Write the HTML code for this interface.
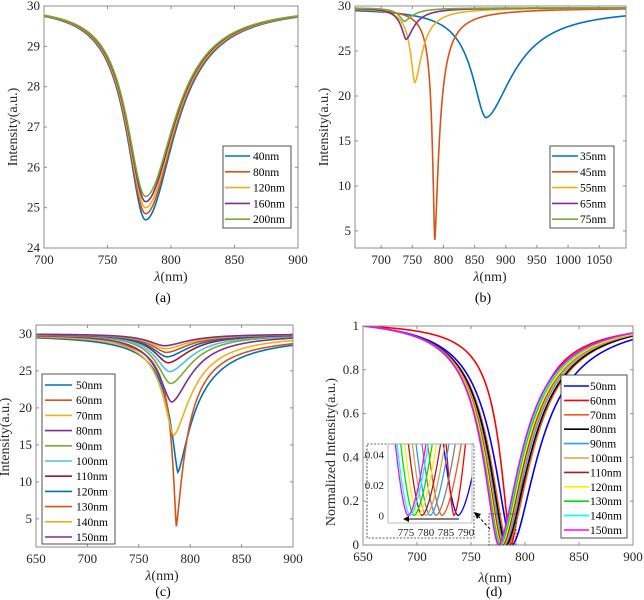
<!DOCTYPE html>
<html><head><meta charset="utf-8">
<style>
html,body{margin:0;padding:0;background:#fff;}
svg{display:block;font-family:"Liberation Serif",serif;}
</style></head>
<body>
<svg id="fig" width="644" height="600" viewBox="0 0 644 600" xmlns="http://www.w3.org/2000/svg"></svg>
<script>
// ---- Panel (a) data ----
const aLabels = ["40nm","80nm","120nm","160nm","200nm"];
const aCenters = [780,780,780,780,780];
const aMins = [24.7,24.85,25.0,25.15,25.28];
const aGL = [18,18,18,18,18];
const aGR = [28,28,28,28,28];
const aP = [2,2,2,2,2];
const aBase = 30;
const aXTicks = [700,750,800,850,900];
const aYTicks = [24,25,26,27,28,29,30];
// ---- Panel (b) data ----
const bLabels = ["35nm","45nm","55nm","65nm","75nm"];
const bCenters = [868,786,754,740,737];
const bMins = [17.6,4.0,21.5,26.3,28.3];
const bGL = [28,5,9,10,10];
const bGR = [55,9,15,16,16];
const bP = [1.8,1.5,1.7,1.7,1.7];
const bBase = 29.8;
const bXTicks = [700,750,800,850,900,950,1000,1050];
const bYTicks = [5,10,15,20,25,30];
// ---- Panel (c) data ----
const cLabels = ["50nm","60nm","70nm","80nm","90nm","100nm","110nm","120nm","130nm","140nm","150nm"];
const cCenters = [788,786.5,784,782,781,780,778.5,777.5,777,776,775];
const cMins = [11.3,4.0,16.3,20.8,23.3,24.9,26.1,26.9,27.5,28.0,28.4];
const cGL = [11,6,14,16,17,18,18,19,19,20,20];
const cGR = [20,12,22,24,25,26,26,27,27,28,28];
const cP = [1.4,1.3,1.6,1.7,1.8,1.8,1.8,1.8,1.8,1.8,1.8];
const cBase = 30;
const cXTicks = [650,700,750,800,850,900];
const cYTicks = [5,10,15,20,25,30];
// ---- Panel (d) data ----
const dLabels = ["50nm","60nm","70nm","80nm","90nm","100nm","110nm","120nm","130nm","140nm","150nm"];
const dCenters = [788,787,784,782.5,781,780,779,778,777,776,775.5];
const dGL = [22,13,21.5,21,21,20.5,20.5,20,20,19.5,19];
const dGR = [31,19,29,29,28.5,28.5,28,28,27.5,27.5,27];
const dP = [1.7,1.6,1.7,1.7,1.7,1.7,1.7,1.7,1.7,1.7,1.7];
const dXTicks = [650,700,750,800,850,900];
const dYTicks = [0,0.2,0.4,0.6,0.8,1];
const dYTickLabels = ["0","0.2","0.4","0.6","0.8","1"];
const insetXTicks = [775,780,785,790];
const insetYTicks = [0,0.02,0.04];
const insetYTickLabels = ["0","0.02","0.04"];

const matlab = ["#0072BD","#D95319","#EDB120","#7E2F8E","#77AC30","#4DBEEE","#A2142F"];
const dColors = ["#0000ff","#ff0000","#f05a1a","#000000","#2a9cff","#e0a040","#a0202a","#ffee00","#00e000","#00ffff","#ff00ff"];

const NS = "http://www.w3.org/2000/svg";
const svg = document.getElementById("fig");
function el(tag, attrs, parent){
  const e = document.createElementNS(NS, tag);
  for (const k in attrs) e.setAttribute(k, attrs[k]);
  (parent||svg).appendChild(e);
  return e;
}
function lor(x,c,gl,gr,p){
  const d = x - c; const g = d<0?gl:gr;
  return 1/(1+Math.pow(Math.abs(d)/g,p));
}
function scale(d0,d1,r0,r1){ return v => r0 + (v-d0)/(d1-d0)*(r1-r0); }

function axes(g, name, X, Y, px, xt, yt, ytl, fs){
  const [x0,x1,y0,y1] = px;
  const frame = el("rect",{x:x0,y:y0,width:x1-x0,height:y1-y0,fill:"none",stroke:"#8c8c8c","stroke-width":1},g);
  
  
  xt.forEach(v=>{
    const x = X(v);
    el("line",{x1:x,y1:y1,x2:x,y2:y1-3,stroke:"#8c8c8c"},g);
    el("line",{x1:x,y1:y0,x2:x,y2:y0+3,stroke:"#8c8c8c"},g);
    const t = el("text",{x:x,y:y1+16,"font-size":fs,"text-anchor":"middle",fill:"#262626"},g);
    t.textContent = v;
    
    
  });
  yt.forEach((v,i)=>{
    const y = Y(v);
    el("line",{x1:x0,y1:y,x2:x0+3,y2:y,stroke:"#8c8c8c"},g);
    el("line",{x1:x1,y1:y,x2:x1-3,y2:y,stroke:"#8c8c8c"},g);
    const t = el("text",{x:x0-4,y:y+4,"font-size":fs,"text-anchor":"end",fill:"#262626"},g);
    t.textContent = ytl ? ytl[i] : v;
    
    
  });
}
function clip(id, px){
  const cp = el("clipPath",{id:id});
  el("rect",{x:px[0],y:px[2],width:px[1]-px[0],height:px[3]-px[2]},cp);
}
function legend(g, name, box, labels, colors, y0, step, lx0, lx1, tx){
  const r = el("rect",{x:box[0],y:box[1],width:box[2],height:box[3],fill:"#fff",stroke:"#262626","stroke-width":0.8},g);
  
  
  labels.forEach((l,i)=>{
    const y = y0 + i*step;
    const ln = el("line",{x1:lx0,y1:y,x2:lx1,y2:y,stroke:colors[i % colors.length],"stroke-width":1.6},g);
    
    
    const t = el("text",{x:tx,y:y+4,"font-size":11.5,fill:"#000"},g);
    t.textContent = l;
    
    
  });
}
function labels(g,name,xl,yl,cap){
  let t = el("text",{x:xl[0],y:xl[1],"font-size":14,"text-anchor":"middle",fill:"#262626"},g);
  t.innerHTML = '<tspan font-style="italic">λ</tspan>(nm)';
  
  
  t = el("text",{x:0,y:0,"font-size":14,"text-anchor":"middle",fill:"#262626",transform:`translate(${yl[0]},${yl[1]}) rotate(-90)`},g);
  t.textContent = yl[2];
  
  
  t = el("text",{x:cap[0],y:cap[1],"font-size":14,"text-anchor":"middle",fill:"#000"},g);
  t.textContent = cap[2];
  
  
}
function intensityPanel(name, px, xd, yd, centers, mins, gl, gr, pp, base, colors, xt, yt){
  const g = el("g",{});
  
  
  const X = scale(xd[0],xd[1],px[0],px[1]);
  const Y = scale(yd[0],yd[1],px[3],px[2]);
  clip(name+"-clip", px);
  const cg = el("g",{"clip-path":`url(#${name}-clip)`},g);
  centers.forEach((c,i)=>{
    let d = "";
    for (let x = xd[0]; x <= xd[1]+1e-9; x += 0.25){
      const v = base - (base - mins[i]) * lor(x,c,gl[i],gr[i],pp[i]);
      d += (d?"L":"M") + X(x).toFixed(2) + "," + Y(v).toFixed(2);
    }
    const p = el("path",{d:d,fill:"none",stroke:colors[i % colors.length],"stroke-width":1.6},cg);
    
    
  });
  axes(g, name, X, Y, px, xt, yt, null, 13);
  return g;
}

// Panel a
const ga = intensityPanel("panel-a",[44,298,6,248],[700,900],[24,30],aCenters,aMins,aGL,aGR,aP,aBase,matlab,aXTicks,aYTicks);
legend(ga,"panel-a",[223,146,68,82],aLabels,matlab,156,15.8,225,250,253);
labels(ga,"panel-a",[171,281],[17,127,"Intensity(a.u.)"],[163,302,"(a)"]);

// Panel b
const gb = intensityPanel("panel-b",[355,626,6,248],[658,1093],[3.1,30],bCenters,bMins,bGL,bGR,bP,bBase,matlab,bXTicks,bYTicks);
legend(gb,"panel-b",[550,146,64,82],bLabels,matlab,156,15.8,552,578,580);
labels(gb,"panel-b",[490,281],[328,127,"Intensity(a.u.)"],[483,302,"(b)"]);

// Panel c
const gc = intensityPanel("panel-c",[36,293,325,547],[650,900],[1.2,31.2],cCenters,cMins,cGL,cGR,cP,cBase,matlab,cXTicks,cYTicks);
legend(gc,"panel-c",[42,374,73,170],cLabels,matlab,385,15.2,45,72,76);
labels(gc,"panel-c",[162,580],[9,437,"Intensity(a.u.)"],[163,596,"(c)"]);

// Panel d
(function(){
  const name = "panel-d";
  const g = el("g",{});
  
  
  const px = [363,633,326,545];
  const X = scale(650,900,px[0],px[1]);
  const Y = scale(0,1,px[3],px[2]);
  function norm(i){
    let mx = 0;
    for (let x=650;x<=900;x+=0.5){ const f = 1 - lor(x,dCenters[i],dGL[i],dGR[i],dP[i]); if (f>mx) mx=f; }
    return x => (1 - lor(x,dCenters[i],dGL[i],dGR[i],dP[i]))/mx;
  }
  clip("pd-clip", px);
  const cg = el("g",{"clip-path":"url(#pd-clip)"},g);
  dCenters.forEach((c,i)=>{
    const f = norm(i); let d="";
    for (let x=650;x<=900;x+=0.25){ d += (d?"L":"M")+X(x).toFixed(2)+","+Y(f(x)).toFixed(2); }
    const p = el("path",{d:d,fill:"none",stroke:dColors[i],"stroke-width":1.6},cg);
    
    
  });
  axes(g, name, X, Y, px, dXTicks, dYTicks, dYTickLabels, 13);
  const zb = el("rect",{x:489,y:514,width:27,height:31,fill:"none",stroke:"#333","stroke-width":0.8,"stroke-dasharray":"2,1.5"},g);
  
  
  const ar = el("line",{x1:490,y1:529,x2:478,y2:516,stroke:"#000","stroke-width":1,"stroke-dasharray":"3,2"},g);
  
  
  el("polygon",{points:"474,512 481,514 477,519",fill:"#000"},g);
  legend(g,"panel-d",[561,375,66,163],dLabels,dColors,386,14.4,564,589,590);
  const ig = el("g",{},g);
  
  
  el("rect",{x:367,y:444,width:107,height:94,fill:"#fff",stroke:"#333","stroke-width":0.8,"stroke-dasharray":"2,1.5"},ig);
  const ipx = [388,472,444,523];
  const IX = scale(770.5,791.5,ipx[0],ipx[1]);
  const IY = scale(-0.005,0.047,ipx[3],ipx[2]);
  clip("pi-clip", ipx);
  const icg = el("g",{"clip-path":"url(#pi-clip)"},ig);
  dCenters.forEach((c,i)=>{
    const f = norm(i); let d="";
    for (let x=770;x<=792;x+=0.05){ d += (d?"L":"M")+IX(x).toFixed(2)+","+IY(f(x)).toFixed(2); }
    const col = dColors[i]==="#000000" ? "#808080" : dColors[i];
    const p = el("path",{d:d,fill:"none",stroke:col,"stroke-width":1.3},icg);
    
    
  });
  el("rect",{x:ipx[0],y:ipx[2],width:ipx[1]-ipx[0],height:ipx[3]-ipx[2],fill:"none",stroke:"#aaa","stroke-width":0.8},ig);
  insetXTicks.forEach(v=>{
    const t = el("text",{x:IX(v),y:536,"font-size":11,"text-anchor":"middle",fill:"#262626"},ig);
    t.textContent = v;
    
    
  });
  insetYTicks.forEach((v,i)=>{
    const t = el("text",{x:384,y:IY(v)+4,"font-size":11,"text-anchor":"end",fill:"#262626"},ig);
    t.textContent = insetYTickLabels[i];
    
    
  });
  const sa = el("line",{x1:459,y1:519,x2:407,y2:519,stroke:"#000","stroke-width":1},ig);
  
  
  el("polygon",{points:"403,519 409,516 409,522",fill:"#000"},ig);
  labels(g,name,[495,582],[335,452,"Normalized Intensity(a.u.)"],[494,596,"(d)"]);
})();
</script>
</body></html>
